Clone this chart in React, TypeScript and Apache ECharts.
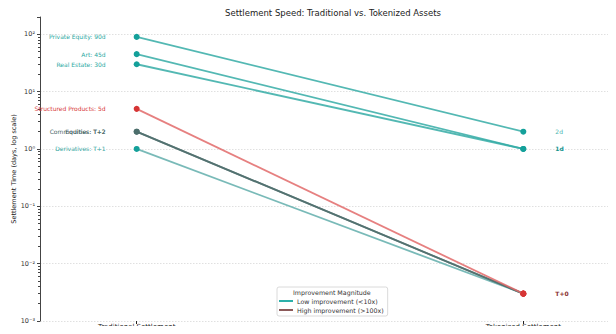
import React, { useEffect, useRef } from "react";
import * as echarts from "echarts";

const assets = ["Private Equity", "Art", "Real Estate", "Structured Products", "Commodities", "Equities", "Derivatives"];
const traditionalDays = [90, 45, 30, 5, 2, 2, 1];
const tokenizedDays = [2, 1, 1, 0.003, 0.003, 0.003, 0.003];
const traditionalLabels = ["90d", "45d", "30d", "5d", "T+2", "T+2", "T+1"];
const tokenizedLabels = ["2d", "1d", "1d", "T+0", "T+0", "T+0", "T+0"];
const stageNames = ["Traditional Settlement", "Tokenized Settlement"];
const legendNames = ["Low improvement (<10x)", "High improvement (>100x)"];

const lineColors = ["#35aca6", "#35aca6", "#35aca6", "#e26a6a", "#4f6f6d", "#4f6f6d", "#62aeab"];
const pointColors = ["#14a09a", "#14a09a", "#14a09a", "#d63535", "#4c6e6c", "#4c6e6c", "#14a09a"];
const labelColors = ["#2aa8a2", "#2aa8a2", "#2aa8a2", "#d83a3a", "#4a6968", "#4a6968", "#3aa9a4"];
const rightLabelColors = ["#4bb5b0", "#16958f", "#16958f", "#8a3030", "#8a3030", "#8a3030", "#8a3030"];
const legendColors = ["#2cb0aa", "#8c5a5a"];
const zOrder = [2, 2, 2, 5, 3, 3, 2];

const FONT = "DejaVu Sans";

const sup: Record<string, string> = { "-": "⁻", "0": "⁰", "1": "¹", "2": "²", "3": "³", "4": "⁴" };
function powLabel(v: number): string {
  const l = Math.log10(v);
  const e = Math.round(l);
  if (Math.abs(l - e) > 1e-6) return "";
  return "10" + String(e).split("").map((c) => sup[c] || c).join("");
}

function stageLabel(v: any): string {
  const n = Number(v);
  if (Math.abs(n) < 1e-6) return stageNames[0];
  if (Math.abs(n - 1) < 1e-6) return stageNames[1];
  return "";
}

export default function App() {
  const ref = useRef<HTMLDivElement>(null);
  useEffect(() => {
    if (!ref.current) return;
    const chart = echarts.init(ref.current, undefined, { renderer: "svg" });
    const series: any[] = assets.map((name, i) => ({
      name,
      type: "line",
      z: zOrder[i],
      symbol: "circle",
      symbolSize: 6,
      lineStyle: { color: lineColors[i], width: 1.8, opacity: 0.85 },
      itemStyle: { color: pointColors[i] },
      data: [
        {
          value: [0, traditionalDays[i]],
          label: {
            show: true,
            position: "left",
            distance: 28,
            formatter: `${name}: ${traditionalLabels[i]}`,
            color: labelColors[i],
            fontSize: 6,
            fontFamily: FONT,
          },
        },
        {
          value: [1, tokenizedDays[i]],
          itemStyle: tokenizedDays[i] < 0.01 ? { color: "#d63535" } : undefined,
          label: {
            show: i === 0 || i === 1 || i === 3,
            position: "right",
            distance: 29,
            formatter: tokenizedLabels[i],
            color: rightLabelColors[i],
            fontSize: 6,
            fontWeight: i === 3 || i === 1 ? "bold" : "normal",
            fontFamily: FONT,
          },
        },
      ],
    }));
    legendNames.forEach((n, i) => {
      series.push({ name: n, type: "line", data: [], itemStyle: { color: legendColors[i] }, lineStyle: { color: legendColors[i] } });
    });

    chart.setOption({
      animation: false,
      title: {
        text: "Settlement Speed: Traditional vs. Tokenized Assets",
        left: 328,
        top: 3,
        textAlign: "center",
        textStyle: { fontSize: 8.5, fontWeight: "normal", color: "#222", fontFamily: FONT },
      },
      grid: { left: 40, right: -4, top: 17, bottom: 13, containLabel: false, outerBoundsMode: "none" },
      legend: {
        data: legendNames,
        orient: "vertical",
        left: 277,
        top: 287,
        icon: "rect",
        itemWidth: 14,
        itemHeight: 2,
        itemGap: 3,
        padding: [11, 4, 3, 2],
        backgroundColor: "#fff",
        borderColor: "#d0d0d0",
        borderWidth: 0.8,
        borderRadius: 2,
        textStyle: { fontSize: 6.3, color: "#333", fontFamily: FONT, padding: [0, 0, 0, -1] },
        selectedMode: false,
      },
      graphic: [
        {
          type: "text",
          left: 293,
          top: 289,
          z: 100,
          style: { text: "Improvement Magnitude", fontSize: 6.3, fill: "#333", fontFamily: FONT },
        },
      ],
      xAxis: {
        type: "value",
        min: -0.25,
        max: 1.25,
        interval: 0.25,
        axisLine: { show: false, onZero: false },
        splitLine: { show: false },
        axisTick: { show: true, customValues: [0, 1], length: 3, lineStyle: { color: "#222" } },
        axisLabel: {
          show: true,
          formatter: stageLabel,
          fontSize: 7,
          lineHeight: 7,
          color: "#222",
          margin: 6,
          fontFamily: FONT,
          verticalAlign: "middle",
          hideOverlap: false,
        },
      },
      yAxis: {
        type: "log",
        logBase: 10,
        min: 0.001,
        max: 200,
        name: "Settlement Time (days, log scale)",
        nameLocation: "middle",
        nameGap: 23,
        nameRotate: 90,
        nameMoveOverlap: false,
        nameTextStyle: { fontSize: 6.5, color: "#222", fontFamily: FONT },
        axisLine: { show: true, onZero: false, lineStyle: { color: "#444", width: 1 } },
        axisTick: { show: true, length: 3, lineStyle: { color: "#444" } },
        minorTick: { show: true, splitNumber: 9, length: 2, lineStyle: { color: "#444" } },
        axisLabel: {
          formatter: powLabel,
          fontSize: 6.5,
          color: "#333",
          margin: 5,
          fontFamily: FONT,
        },
        splitLine: {
          show: true,
          showMaxLine: false,
          lineStyle: { color: "#d8d8d8", type: [1.5, 1.5], width: 0.8 },
        },
      },
      series,
    });
    return () => chart.dispose();
  }, []);
  return <div ref={ref} style={{ width: 616, height: 334, margin: -8 }} />;
}
